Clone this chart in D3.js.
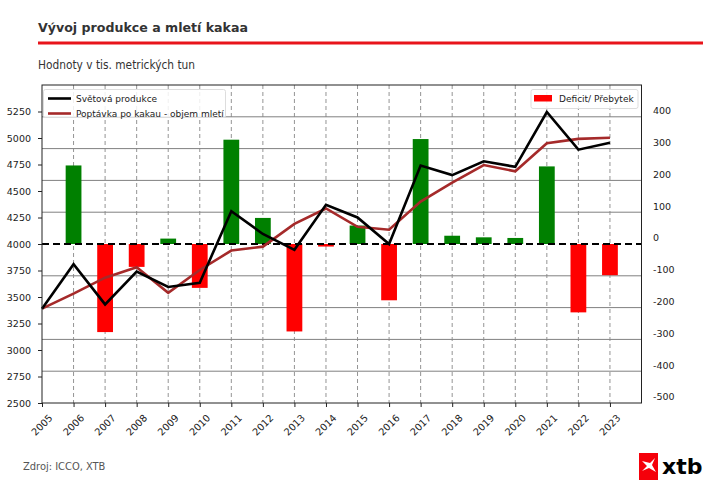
<!DOCTYPE html>
<html><head><meta charset="utf-8">
<script src="https://cdn.jsdelivr.net/npm/d3@7"></script>
<style>body{margin:0;background:#fff} svg{display:block}</style></head>
<body>
<svg id="c" width="715" height="494"></svg>
<script>
const years = [2005,2006,2007,2008,2009,2010,2011,2012,2013,2014,2015,2016,2017,2018,2019,2020,2021,2022,2023];
const production = [3390,3810,3430,3740,3595,3635,4310,4095,3945,4370,4250,4000,4740,4650,4780,4728,5245,4890,4955];
const demand = [3390,3532,3682,3780,3540,3755,3938,3975,4190,4335,4162,4135,4400,4580,4745,4686,4950,4992,5002];
const balance = [247,-277,-72,17,-138,328,82,-275,-8,58,-177,330,26,21,19,244,-215,-98];
const balanceYears = years.slice(1);
const leftTicks = [2500,2750,3000,3250,3500,3750,4000,4250,4500,4750,5000,5250];
const rightTicks = [-500,-400,-300,-200,-100,0,100,200,300,400];
const seriesNames = ["Světová produkce","Poptávka po kakau - objem mletí","Deficit/ Přebytek"];

const svg = d3.select("#c");
const L = 42, R = 641.5, T = 85, B = 403;
const x = d3.scaleLinear().domain([2005, 2024]).range([L, R]);
const yL = d3.scaleLinear().domain([2500, 5500]).range([B, T]);
const yR = d3.scaleLinear().domain([-500, 500]).range([B, T]);
const font = "'DejaVu Sans', sans-serif";
const condFont = "'DejaVu Sans Condensed','DejaVu Sans', sans-serif";

// Title
svg.append("text").attr("x", 38).attr("y", 32).text("Vývoj produkce a mletí kakaa")
  .attr("font-family", font).attr("font-weight", "bold").attr("font-size", 12.6).attr("fill", "#333");
svg.append("rect").attr("x", 38).attr("y", 41.5).attr("width", 665).attr("height", 3).attr("fill", "#e8141b");
svg.append("text").attr("x", 38).attr("y", 69).text("Hodnoty v tis. metrických tun")
  .attr("font-family", condFont).attr("font-size", 11.8).attr("fill", "#333");

// Gridlines horizontal (right axis)
svg.append("g").selectAll("line").data(rightTicks.filter(v => v > -500 && v !== 0)).join("line")
  .attr("x1", L).attr("x2", R).attr("y1", d => yR(d)).attr("y2", d => yR(d))
  .attr("stroke", "#808080").attr("stroke-width", 1);
// vertical dashed gridlines
svg.append("g").selectAll("line").data(years.slice(1)).join("line")
  .attr("x1", d => x(d)).attr("x2", d => x(d)).attr("y1", T).attr("y2", B)
  .attr("stroke", "#888").attr("stroke-width", 0.9).attr("stroke-dasharray", "4,3");

// Bars
svg.append("g").selectAll("rect").data(balance).join("rect")
  .attr("x", (d, i) => x(balanceYears[i] - 0.25))
  .attr("width", (d, i) => x(balanceYears[i] + 0.25) - x(balanceYears[i] - 0.25))
  .attr("y", d => d >= 0 ? yR(d) : yR(0))
  .attr("height", d => Math.abs(yR(d) - yR(0)))
  .attr("fill", d => d >= 0 ? "#008000" : "#ff0000");

// zero dashed line
svg.append("line").attr("x1", L).attr("x2", R).attr("y1", yR(0)).attr("y2", yR(0))
  .attr("stroke", "#000").attr("stroke-width", 2).attr("stroke-dasharray", "7,4");

// lines
const line = d3.line().x((d, i) => x(years[i])).y(d => yL(d));
svg.append("path").datum(demand).attr("d", line).attr("fill", "none")
  .attr("stroke", "#a52a2a").attr("stroke-width", 2.6);
svg.append("path").datum(production).attr("d", line).attr("fill", "none")
  .attr("stroke", "#000").attr("stroke-width", 2.6);

// frame
svg.append("rect").attr("x", L).attr("y", T).attr("width", R - L).attr("height", B - T)
  .attr("fill", "none").attr("stroke", "#222").attr("stroke-width", 1);

// Left axis
const ax = svg.append("g").attr("transform", `translate(${L},0)`)
  .call(d3.axisLeft(yL).tickValues(leftTicks).tickSize(4).tickPadding(7).tickFormat(d3.format("d")));
ax.select(".domain").remove();
ax.selectAll("text").attr("font-family", font).attr("font-size", 9.5).attr("fill", "#222");
ax.selectAll("line").attr("stroke", "#222");

// right axis labels
svg.append("g").selectAll("text").data(rightTicks).join("text")
  .attr("x", 653).attr("y", d => yR(d) - 6).attr("dy", "0.35em")
  .text(d => d).attr("font-family", font).attr("font-size", 9.5).attr("fill", "#222");

// x axis
const xa = svg.append("g").attr("transform", `translate(0,${B})`)
  .call(d3.axisBottom(x).tickValues(years).tickSize(4).tickFormat(() => ""));
xa.select(".domain").remove();
xa.selectAll("line").attr("stroke", "#222");
svg.append("g").selectAll("text").data(years).join("text")
  .attr("transform", d => `translate(${x(d)},${B + 22}) rotate(-45)`)
  .attr("text-anchor", "middle").attr("dy", "0.35em")
  .text(d => d).attr("font-family", font).attr("font-size", 9.8).attr("fill", "#222");

// Legend left
const lg = svg.append("g");
lg.append("rect").attr("x", 43.5).attr("y", 89.5).attr("width", 182).attr("height", 28).attr("rx", 2)
  .attr("fill", "#fff").attr("fill-opacity", 0.85).attr("stroke", "#ddd");
[[production, "#000", 98.5, seriesNames[0]], [demand, "#a52a2a", 113.5, seriesNames[1]]].forEach(([s, c, yy, n]) => {
  lg.append("line").attr("x1", 48).attr("x2", 71).attr("y1", yy).attr("y2", yy).attr("stroke", c).attr("stroke-width", 2.6);
  lg.append("text").attr("x", 76).attr("y", yy).attr("dy", "0.35em").text(n)
    .attr("font-family", font).attr("font-size", 9).attr("fill", "#222");
});
// Legend right
const lr = svg.append("g");
lr.append("rect").attr("x", 531).attr("y", 89.5).attr("width", 107).attr("height", 19).attr("rx", 2)
  .attr("fill", "#fff").attr("fill-opacity", 0.85).attr("stroke", "#ddd");
lr.append("rect").attr("x", 534).attr("y", 95).attr("width", 18).attr("height", 6.5).attr("fill", "#ff0000");
lr.append("text").attr("x", 559).attr("y", 98.5).attr("dy", "0.35em").text(seriesNames[2])
  .attr("font-family", font).attr("font-size", 9).attr("fill", "#222");

// Footer
svg.append("text").attr("x", 23).attr("y", 470).text("Zdroj: ICCO, XTB")
  .attr("font-family", condFont).attr("font-size", 11).attr("fill", "#555");
// Logo
const logo = svg.append("g");
logo.append("rect").attr("x", 639).attr("y", 453).attr("width", 19).attr("height", 27).attr("fill", "#f5000a");
logo.append("path").attr("d", "M642,461 L650,463 L655,458 L652,465 L656,472 L649,468 L642,471 L647,466 Z").attr("fill", "#fff");
logo.append("text").attr("x", 662).attr("y", 474).text("xtb")
  .attr("font-family", "'DejaVu Sans', sans-serif").attr("font-weight", "bold").attr("font-size", 22).attr("fill", "#000");
</script>
</body></html>
